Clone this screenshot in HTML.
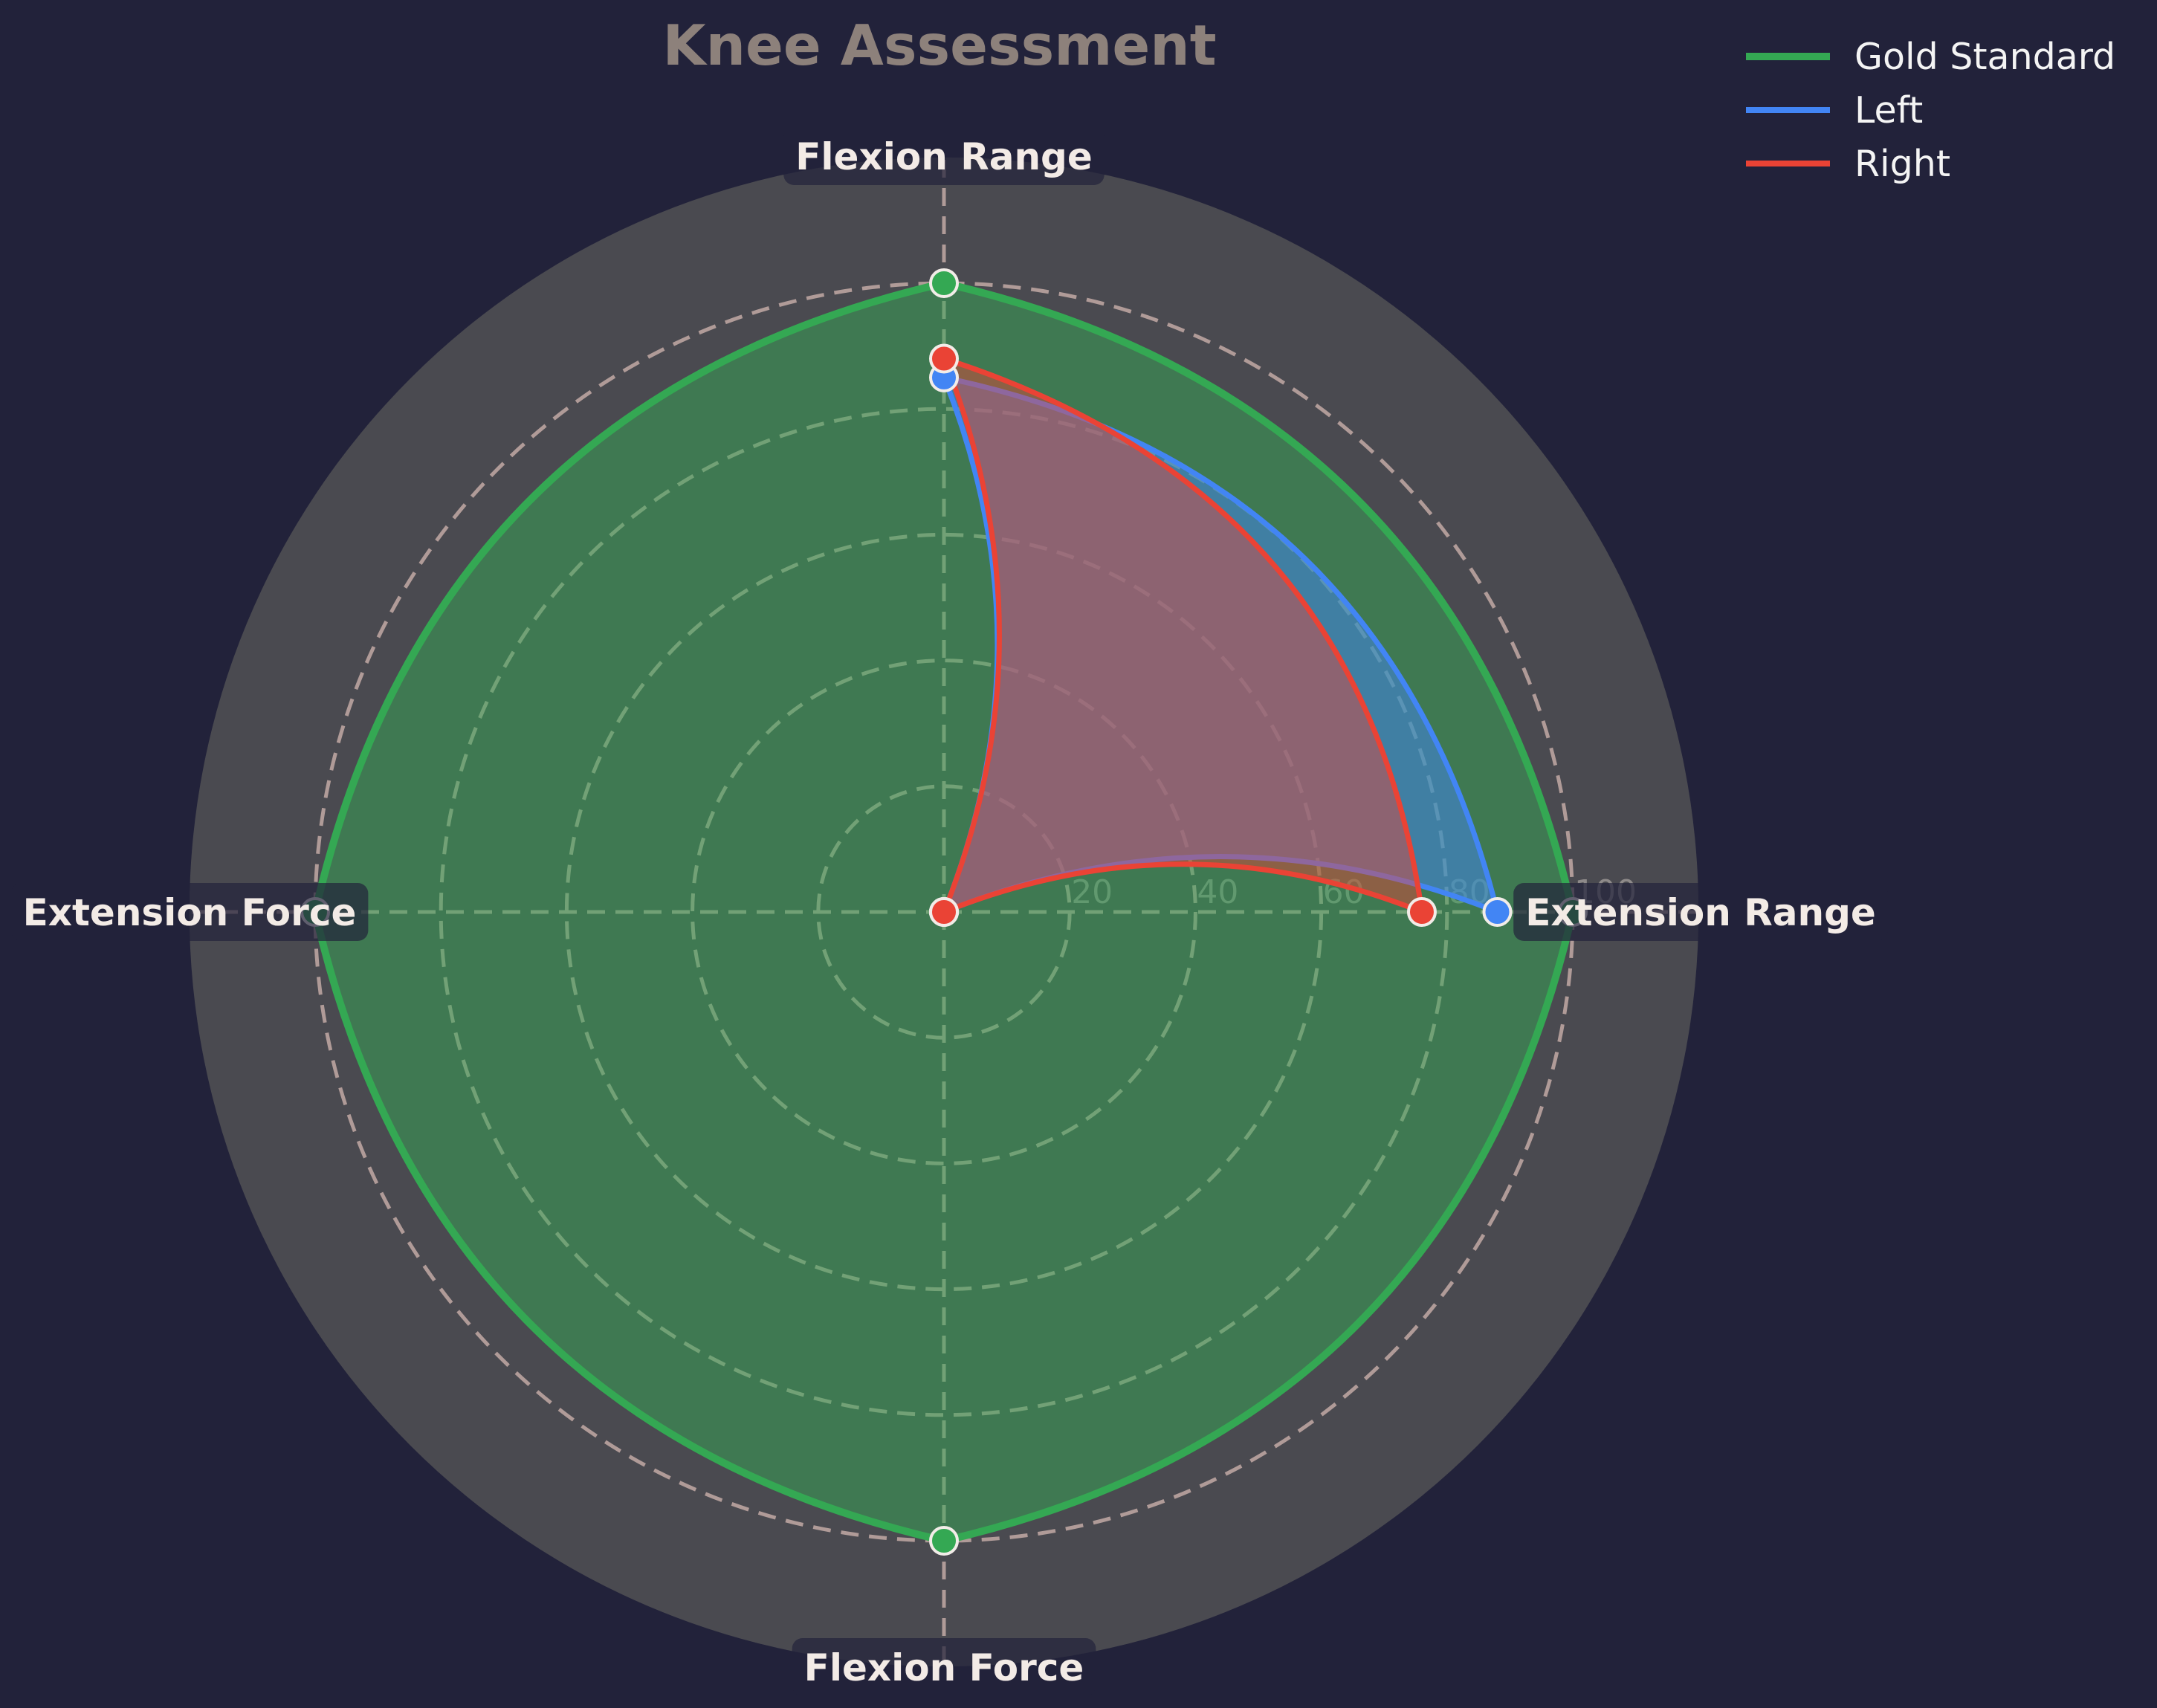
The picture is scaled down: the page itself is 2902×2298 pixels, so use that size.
<!DOCTYPE html>
<html><head><meta charset="utf-8">
<style>
html,body{margin:0;padding:0;background:#22223a;}
svg{display:block;}
text{font-family:"DejaVu Sans","Liberation Sans",sans-serif;}
</style></head>
<body>
<svg id="chart" width="2902" height="2298" viewBox="0 0 2902 2298" xmlns="http://www.w3.org/2000/svg">
<rect x="0" y="0" width="2902" height="2298" fill="#22223a"/>
<text x="1264" y="87" text-anchor="middle" font-size="75" font-weight="bold" fill="#8d817b">Knee Assessment</text>
<g id="plot"></g>
<g id="legend"></g>
</svg>
<script>
const categories = ["Flexion Range", "Extension Range", "Flexion Force", "Extension Force"];
const goldValues = [100, 100, 100, 100];
const leftValues = [85, 88, 0, 0];
const rightValues = [88, 76, 0, 0];
const ringTicks = [20, 40, 60, 80, 100];
const ringLabels = ["20", "40", "60", "80", "100"];
const rMax = 120;

const NS = "http://www.w3.org/2000/svg";
const CX = 1270, CY = 1227, SCALE = 8.46;
const angles = [90, 0, -90, 180];
function rad(d){return d*Math.PI/180;}
function px(r, a){return CX + r*SCALE*Math.cos(rad(a));}
function py(r, a){return CY - r*SCALE*Math.sin(rad(a));}
function mk(tag, attrs, parent){
  const e = document.createElementNS(NS, tag);
  for (const k in attrs) e.setAttribute(k, attrs[k]);
  parent.appendChild(e);
  return e;
}
const plot = document.getElementById('plot');

const disc = mk('circle', {cx:CX, cy:CY, r:rMax*SCALE, fill:'#4a4a50'}, plot);



ringTicks.forEach((t, i) => {
  const c = mk('circle', {cx:CX, cy:CY, r:t*SCALE, fill:'none', stroke:'#b09b98', 'stroke-width':5, 'stroke-dasharray':'24 14'}, plot);
  
  
});
angles.forEach((a, i) => {
  const l = mk('line', {x1:CX, y1:CY, x2:px(rMax, a), y2:py(rMax, a), stroke:'#b09b98', 'stroke-width':5, 'stroke-dasharray':'24 14'}, plot);
  
  
});
ringTicks.forEach((t, i) => {
  const tx = mk('text', {x:CX + t*SCALE + 2, y:CY - 12, 'font-size':44, fill:'#bdb5b0', 'fill-opacity':0.6}, plot);
  tx.textContent = ringLabels[i];
  
  
});

function seriesPath(vals){
  const n = vals.length;
  const pts = vals.map((v, i) => [px(v, angles[i]), py(v, angles[i])]);
  let d = 'M' + pts[0][0] + ' ' + pts[0][1];
  for (let i = 0; i < n; i++){
    const j = (i+1) % n;
    const rA = vals[i], rB = vals[j];
    const B = pts[j];
    if (rA > 0 && rB > 0){
      let aj = angles[j];
      if (aj < angles[i] - 180) aj += 360;
      if (aj > angles[i] + 180) aj -= 360;
      const bis = (angles[i] + aj) / 2;
      const R = 1.15 * (rA + rB) / 2;
      d += ' Q' + px(R, bis) + ' ' + py(R, bis) + ' ' + B[0] + ' ' + B[1];
    } else if (rA > 0 || rB > 0){
      const pi = rA > 0 ? i : j;
      const other = rA > 0 ? (i - 1 + n) % n : (j + 1) % n;
      const rP = vals[pi];
      const ux = Math.cos(rad(angles[pi])), uy = Math.sin(rad(angles[pi]));
      const ox = Math.cos(rad(angles[other])), oy = Math.sin(rad(angles[other]));
      let qx = 0.5*rP*ux, qy = 0.5*rP*uy;
      const side = (ox*(-uy) + oy*ux) >= 0 ? 1 : -1;
      qx += side*0.2*rP*(-uy); qy += side*0.2*rP*ux;
      d += ' Q' + (CX + qx*SCALE) + ' ' + (CY - qy*SCALE) + ' ' + B[0] + ' ' + B[1];
    } else {
      d += ' L' + B[0] + ' ' + B[1];
    }
  }
  return d + ' Z';
}

const series = [
  {name:'gold-standard', vals:goldValues, color:'#34a853', fillOp:0.5, w:10},
  {name:'left', vals:leftValues, color:'#4285f4', fillOp:0.5, w:7},
  {name:'right', vals:rightValues, color:'#ea4335', fillOp:0.45, w:7}
];
series.forEach(s => {
  const d = seriesPath(s.vals);
  const f = mk('path', {d:d, fill:s.color, 'fill-opacity':s.fillOp, stroke:'none'}, plot);
  
  
  const l = mk('path', {d:d, fill:'none', stroke:s.color, 'stroke-width':s.w, 'stroke-linejoin':'round'}, plot);
  
  
});
series.forEach(s => {
  s.vals.forEach((v, i) => {
    const c = mk('circle', {cx:px(v, angles[i]), cy:py(v, angles[i]), r:18, fill:s.color, stroke:'#f2ece8', 'stroke-width':4}, plot);
    
    
  });
});

const labelPos = [[1270, 210], [2288, 1227], [1270, 2243], [255, 1227]];
categories.forEach((c, i) => {
  const g = mk('g', {}, plot);
  
  
  const t = mk('text', {x:labelPos[i][0], y:labelPos[i][1] + 18, 'text-anchor':'middle', 'font-size':50, 'font-weight':'bold', fill:'#f3ebe6'}, g);
  t.textContent = c;
  const bb = t.getBBox();
  const r = mk('rect', {x:bb.x - 16, y:labelPos[i][1] - 39, width:bb.width + 32, height:78, rx:14, fill:'#22223a', 'fill-opacity':0.7}, g);
  g.insertBefore(r, t);
});

const legend = document.getElementById('legend');
const legNames = ["Gold Standard", "Left", "Right"];
const legColors = ['#34a853', '#4285f4', '#ea4335'];
const legW = [10, 8, 8];
legNames.forEach((n, i) => {
  const y = 76 + i*72;
  const g = mk('g', {}, legend);
  
  
  mk('line', {x1:2349, y1:y, x2:2462, y2:y, stroke:legColors[i], 'stroke-width':legW[i]}, g);
  const t = mk('text', {x:2495, y:y + 17, 'font-size':49, fill:'#f4f4f4'}, g);
  t.textContent = n;
});
</script>
</body></html>
